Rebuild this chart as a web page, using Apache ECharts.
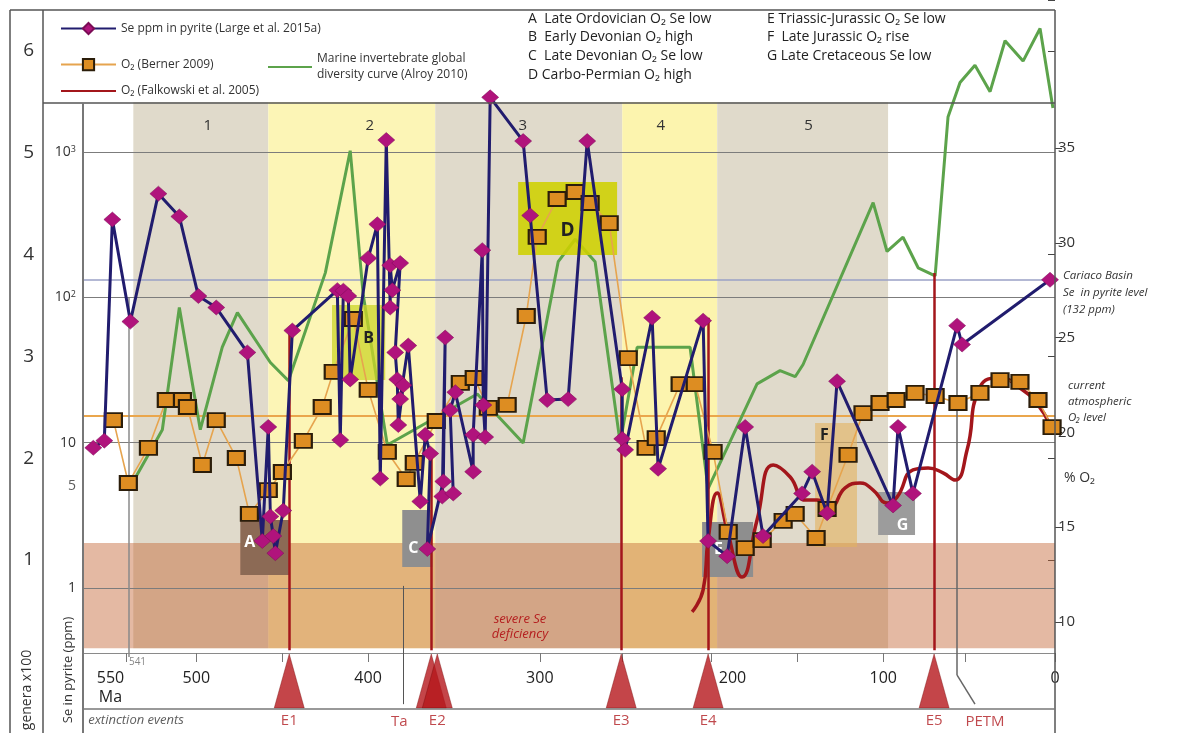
<!DOCTYPE html>
<html><head><meta charset="utf-8">
<script src="https://cdn.jsdelivr.net/npm/echarts@6/dist/echarts.min.js"></script>
<style>html,body{margin:0;padding:0;background:#fff}#c{width:1181px;height:733px}</style>
</head><body><div id="c"></div>
<script>
// ---------------- data ----------------
const seAge = [560.0,553.6,548.9,538.4,522.1,509.9,498.8,488.4,470.3,461.6,458.1,456.9,455.2,454.0,449.4,444.1,417.9,416.2,414.4,411.5,410.4,399.9,394.6,392.9,389.4,387.1,387.1,385.9,381.3,384.2,383.0,382.4,379.5,381.3,376.6,369.6,366.7,363.8,365.5,356.2,355.1,356.8,350.4,352.2,349.2,338.8,338.8,333.5,332.9,331.8,328.9,309.7,305.6,295.7,283.5,272.4,252.0,252.0,250.3,234.6,231.1,204.9,202.0,190.9,180.4,170.0,147.3,141.4,132.7,126.9,94.3,91.4,82.7,57.0,54.1,2.9];
const sePpm = [9.2,10.3,343,68,517,360,102,85,41.7,2.1,12.8,3.1,2.27,1.73,3.4,59,112,10.4,111,102,27.2,186,318,5.65,1210,85,166,112,172,41.7,27.2,13.2,24.8,19.9,46.5,3.93,11.3,8.4,1.85,5.4,52.8,4.25,4.46,16.7,22.2,6.3,11.3,211,18.1,10.9,2380,1190,366,19.6,19.9,1190,23.3,10.6,8.9,72.3,6.6,69,2.1,1.65,12.8,2.27,4.46,6.3,3.26,26.4,3.69,12.8,4.46,63.8,47.3,132];

const bernerAge = [548.3,539.6,527.9,517.5,508.1,505.2,496.5,488.4,476.7,469.1,458.1,449.9,437.7,426.7,420.3,408.6,399.9,388.8,377.8,373.1,360.3,346.3,338.2,330.0,319.0,307.9,301.5,289.9,279.4,270.7,259.6,248.5,238.1,232.2,218.3,209.5,199.1,190.3,180.4,170.5,158.3,151.3,139.1,132.7,120.5,111.8,101.9,92.5,81.5,69.8,56.5,43.7,32.0,20.4,9.9,1.7];
const bernerO2 = [20.65,17.33,19.18,21.71,21.71,21.34,18.28,20.65,18.65,15.70,16.96,17.91,19.55,21.34,23.19,25.98,22.24,18.97,17.54,18.39,20.60,22.61,22.87,21.29,21.45,26.14,30.31,32.31,32.68,32.10,31.04,23.92,19.18,19.70,22.55,22.55,18.97,14.75,13.90,14.32,15.33,15.70,14.43,15.96,18.81,21.02,21.55,21.71,22.08,21.92,21.55,22.08,22.76,22.66,21.71,20.28];

const falkAge = [211.3,204.9,202.0,196.7,190.9,182.2,173.5,164.1,154.2,145.5,138.5,131.0,122.2,113.5,105.9,97.8,92.0,82.7,73.9,65.2,58.2,51.2,43.7,32.0,20.4,9.9,2.9];
const falkO2 = [10.53,11.69,14.32,16.80,14.85,12.37,15.38,18.28,17.65,16.43,16.43,16.07,17.07,17.33,16.96,16.28,16.59,18.02,18.12,17.86,17.49,19.07,22.39,22.87,22.34,21.45,20.39];

const divAge = [536.7,519.8,509.9,497.7,484.9,476.1,456.9,446.4,424.9,410.4,402.8,388.8,336.4,309.7,289.3,279.4,267.8,253.2,243.3,212.5,202.0,173.5,160.1,151.3,146.7,105.9,97.8,88.5,79.7,69.8,62.3,55.3,46.6,37.8,29.1,18.6,8.7,1.2];
const divGenera = [1.77,2.28,3.48,2.28,3.09,3.43,2.94,2.76,3.82,5.02,3.60,2.13,2.63,2.15,3.93,4.15,3.93,2.15,3.09,3.09,1.70,2.73,2.86,2.80,2.92,4.51,4.03,4.17,3.87,3.79,5.35,5.69,5.86,5.60,6.10,5.90,6.22,5.44];

const xLabelValues = [550,500,400,300,200,100,0];
const xTickValues = [541,500,450,400,300,252,200,150,100,52,0];
const seGridValues = [1,10,100,1000];
const cariacoSe = 132;
const currentO2 = 20.9;
const deficiencySe = [0.383, 2.03];
const bandTopSe = 2200, bandBottomSe = 0.383;

const bandNames = ['1','2','3','4','5'];
const bandFrom = [536.7,458.1,360.9,252.0,196.7];
const bandTo   = [458.1,360.9,252.0,196.7,97.2];

const boxNames = ['A','B','C','D','E','F','G'];
const boxAgeFrom = [474.4,421.0,380.1,312.6,205.5,139.7,103.0];
const boxAgeTo   = [445.9,390.0,362.6,255.0,175.8,115.3,81.5];
const boxO2Top   = [15.38,26.72,15.91,33.21,15.27,20.50,16.86];
const boxO2Bot   = [12.48,22.76,12.90,29.36,12.37,13.96,14.59];

const eventNames = ['E1','','E2','E3','E4','E5'];
const eventAge = [445.9,363.2,359.7,252.6,202.0,70.4];
const eventLineAge = [445.9,363.2,252.6,202.0,70.4];
const eventLineTopSe = [61.8,8.6,28.1,72.3,147];
const eventLineBottomSe = 0.371;
const taAge = 379.5, taTopSe = 1.03;
const petmAge = 57.0, petmTopSe = 48.8, petmKneeSe = 0.25, petmFootAge = 46.6;
const cambrianAge = 539.6, cambrianTopSe = 99, cambrianBottomSe = 0.333;
const stripBottomSe = 0.158;

// ---------------- styles / layout ----------------
const FONT = 'Open Sans';
const X_MAX = 566;
const L = 83, R = 126;
const zip = (a,b) => a.map((v,i) => [v, b[i]]);

const bandColors = ['#e0dacb','#fcf5b6','#e0dacb','#fcf4ae','#e0dacb'];
const bandOffsets = [[7,0],[18,0],[-6,0],[-9,0],[6,0]];
const boxStyles = {
  A:{color:'#8c6a55', label:{color:'#fff', position:'insideLeft', distance:4, offset:[0,-5]}},
  B:{color:'rgba(204,212,40,0.75)', label:{color:'#222', position:'inside', offset:[10,-4]}},
  C:{color:'#8f8f8f', label:{color:'#fff', position:'inside', offset:[-4,10]}},
  D:{color:'rgba(206,208,0,0.88)', label:{color:'#222', position:'inside', offset:[0,12], fontSize:19}},
  E:{color:'#8e8e8e', label:{color:'#fff', position:'inside', offset:[-9,0]}},
  F:{color:'rgba(226,178,95,0.6)', label:{color:'#222', position:'insideTopLeft', distance:5}},
  G:{color:'#9c9c9c', label:{color:'#fff', position:'inside', offset:[6,12]}}
};

const xAxisBase = (gi) => ({type:'value', gridIndex:gi, min:0, max:X_MAX, inverse:true, show:false});
const lineOnlyLegend = {itemStyle:{opacity:0, borderWidth:0}};

const option = {
  animation:false,
  backgroundColor:'#fff',
  textStyle:{fontFamily:FONT},
  grid:[
    {left:L, right:R, top:6.8, bottom:-5.3},   // Se log grid: 10^4 .. 0.1
    {left:L, right:R, top:-12, bottom:173},    // genera grid: 6.5 .. 1
    {left:L, right:R, top:148, bottom:111},    // O2 grid: 35 .. 10
    {left:L, right:R, top:653, bottom:24}      // time strip
  ],
  xAxis:[
    xAxisBase(0), xAxisBase(1), xAxisBase(2),
    {type:'value', gridIndex:3, min:0, max:X_MAX, inverse:true, position:'top',
     axisLine:{show:true, onZero:false, lineStyle:{color:'#8a8a8a', width:1}},
     axisTick:{show:true, inside:true, length:9, customValues:xTickValues, lineStyle:{color:'#777'}},
     axisLabel:{show:true, inside:true, margin:16, customValues:xLabelValues, fontSize:16, color:'#222', lineHeight:19,
       formatter:v => v===550 ? '550\nMa' : (v===200 ? '{r|200}' : String(v)),
       rich:{r:{fontSize:16, color:'#222', padding:[0,0,0,42]}}},
     splitLine:{show:false}}
  ],
  yAxis:[
    {type:'log', gridIndex:0, min:0.1, max:10000, logBase:10, position:'left',
     axisLine:{show:false}, axisTick:{show:false}, splitLine:{show:false},
     axisLabel:{margin:7, fontSize:14, color:'#333',
       formatter:v => { if (Math.abs(v-1)<1e-6) return '1'; if (Math.abs(v-10)<1e-6) return '10';
         if (Math.abs(v-100)<1e-4) return '10{sup|2}'; if (Math.abs(v-1000)<1e-3) return '10{sup|3}'; return ''; },
       rich:{sup:{fontSize:9, verticalAlign:'top', color:'#333', padding:[0,0,6,0]}}}},
    {type:'value', gridIndex:1, min:1, max:6.5, interval:1, position:'left', offset:40,
     axisLine:{show:false}, splitLine:{show:false},
     axisTick:{show:true, length:7, lineStyle:{color:'#444'}},
     axisLabel:{margin:9, fontSize:19, color:'#333', formatter:v => Number.isInteger(v) ? String(v) : ''}},
    {type:'value', gridIndex:2, min:10, max:35, interval:5, position:'right',
     axisLine:{show:false}, splitLine:{show:false},
     axisTick:{show:true, length:7, lineStyle:{color:'#444'}},
     axisLabel:{margin:3, fontSize:15, color:'#333'}},
    {type:'value', gridIndex:3, min:0, max:1, show:false}
  ],
  legend:[
    {left:55, top:17, itemWidth:55, itemHeight:14, itemGap:4, data:['Se ppm in pyrite (Large et al. 2015a)'], textStyle:{fontSize:12, color:'#333'}},
    {left:55, top:53, itemWidth:55, itemHeight:14, data:['O₂ (Berner 2009)'], textStyle:{fontSize:12, color:'#333'}},
    Object.assign({left:55, top:80, itemWidth:55, itemHeight:14, data:['O₂ (Falkowski et al. 2005)'], textStyle:{fontSize:12, color:'#333'}}, lineOnlyLegend),
    Object.assign({left:262, top:46, itemWidth:44, itemHeight:14, data:['Marine invertebrate global\ndiversity curve (Alroy 2010)'], textStyle:{fontSize:12, color:'#333', lineHeight:16}}, lineOnlyLegend)
  ],
  series:[
    // background period bands
    {type:'line', name:'bands', xAxisIndex:0, yAxisIndex:0, data:[], silent:true, z:1,
     markArea:{silent:true, z:1, data: bandNames.map((n,i) => [
       {name:n, xAxis:bandFrom[i], yAxis:bandTopSe, itemStyle:{color:bandColors[i], opacity:1},
        label:{show:true, position:'insideTop', distance:16, offset:bandOffsets[i], fontSize:15, color:'#333'}},
       {xAxis:bandTo[i], yAxis:bandBottomSe}])}},
    // severe Se deficiency band
    {type:'line', name:'deficiency', xAxisIndex:0, yAxisIndex:0, data:[], silent:true, z:2,
     markArea:{silent:true, z:2, data:[[
       {xAxis:X_MAX, yAxis:deficiencySe[1], itemStyle:{color:'rgba(195,100,50,0.45)', opacity:1}, label:{show:false}},
       {xAxis:0, yAxis:deficiencySe[0]}]]}},
    // Se reference grid lines
    {type:'line', name:'seRefs', xAxisIndex:0, yAxisIndex:0, data:[], silent:true, z:3,
     markLine:{silent:true, z:3, symbol:['none','none'], label:{show:false}, animation:false,
       data: seGridValues.map(v => ({yAxis:v, lineStyle:{color:'#7c7c7c', width:1, type:'solid'}}))
         .concat([{yAxis:cariacoSe, lineStyle:{color:'#9aa0c6', width:1.5, type:'solid'}}])}},
    // current atmospheric O2 level
    {type:'line', name:'o2Ref', xAxisIndex:2, yAxisIndex:2, data:[], silent:true, z:3,
     markLine:{silent:true, z:3, symbol:['none','none'], label:{show:false},
       data:[{yAxis:currentO2, lineStyle:{color:'#eaa64c', width:2, type:'solid'}}]}},
    // diversity curve
    {type:'line', name:'Marine invertebrate global\ndiversity curve (Alroy 2010)', xAxisIndex:1, yAxisIndex:1,
     data:zip(divAge, divGenera), symbol:'none', z:4, clip:false,
     lineStyle:{color:'#5ca34b', width:3}, itemStyle:{color:'#5ca34b'}},
    // highlighted boxes A-G
    {type:'line', name:'boxes', xAxisIndex:2, yAxisIndex:2, data:[], silent:true, z:5,
     markArea:{silent:true, z:5, data: boxNames.map((n,i) => [
       {name:n, xAxis:boxAgeFrom[i], yAxis:boxO2Top[i],
        itemStyle:{color:boxStyles[n].color, opacity:1},
        label:Object.assign({show:true, fontSize:16, fontWeight:'bold', fontFamily:FONT}, boxStyles[n].label)},
       {xAxis:boxAgeTo[i], yAxis:boxO2Bot[i]}])}},
    // event lines
    {type:'line', name:'events', xAxisIndex:0, yAxisIndex:0, data:[], silent:true, z:6,
     markLine:{silent:true, z:6, symbol:['none','none'], label:{show:false},
       data: eventLineAge.map((a,i) => [
         {coord:[a, eventLineTopSe[i]], lineStyle:{color:'#a3161b', width:2.5, type:'solid'}},
         {coord:[a, eventLineBottomSe]}])
       .concat([
         [{coord:[taAge, taTopSe], lineStyle:{color:'#555', width:1, type:'solid'}}, {coord:[taAge, stripBottomSe]}],
         [{coord:[petmAge, petmTopSe], lineStyle:{color:'#666', width:1.5, type:'solid'}}, {coord:[petmAge, petmKneeSe]}],
         [{coord:[petmAge, petmKneeSe], lineStyle:{color:'#666', width:1.5, type:'solid'}}, {coord:[petmFootAge, stripBottomSe]}],
         [{coord:[cambrianAge, cambrianTopSe], lineStyle:{color:'#8a8a8a', width:1.5, type:'solid'}}, {coord:[cambrianAge, cambrianBottomSe]}]
       ])}},
    // Falkowski O2
    {type:'line', name:'O₂ (Falkowski et al. 2005)', xAxisIndex:2, yAxisIndex:2, data:zip(falkAge, falkO2),
     smooth:0.5, symbol:'none', z:7, clip:false, lineStyle:{color:'#a3161b', width:3.5}, itemStyle:{color:'#a3161b'}},
    // Berner O2
    {type:'line', name:'O₂ (Berner 2009)', xAxisIndex:2, yAxisIndex:2, data:zip(bernerAge, bernerO2),
     symbol:'rect', symbolSize:[17,14], z:8, clip:false,
     lineStyle:{color:'#e6a44e', width:1.6},
     itemStyle:{color:'#dd8d22', borderColor:'#2b1d0a', borderWidth:2}},
    // Se in pyrite
    {type:'line', name:'Se ppm in pyrite (Large et al. 2015a)', xAxisIndex:0, yAxisIndex:0, data:zip(seAge, sePpm),
     symbol:'diamond', symbolSize:[17,15], z:9, clip:false,
     lineStyle:{color:'#211c6e', width:3},
     itemStyle:{color:'#b0137c', borderColor:'#7a0c55', borderWidth:0.5}},
    // extra Se axis label "5"
    {type:'scatter', name:'seFive', xAxisIndex:0, yAxisIndex:0, data:[[X_MAX,5]], symbolSize:0, silent:true, z:9,
     label:{show:true, position:'left', distance:7, formatter:'5', fontSize:14, color:'#333'}},
    // extinction triangles
    {type:'scatter', name:'extinctions', xAxisIndex:3, yAxisIndex:3, data:eventAge.map(a => [a, 0.5]),
     symbol:'triangle', symbolSize:[30,54], z:10, silent:true,
     itemStyle:{color:'#b5161c', borderColor:'#7a0c0c', borderWidth:0.5},
     label:{show:true, position:'bottom', distance:5, fontSize:15, color:'#b01c20',
       formatter:p => eventNames[p.dataIndex]}},
    // strip annotations
    {type:'scatter', name:'stripText', xAxisIndex:3, yAxisIndex:3, symbolSize:0, silent:true, z:10,
     data:[
       {value:[taAge,0], label:{formatter:'Ta', offset:[-4,0], color:'#b01c20'}},
       {value:[petmFootAge,0], label:{formatter:'PETM', offset:[10,0], color:'#b01c20'}},
       {value:[563,0], label:{formatter:'extinction events', align:'left', fontStyle:'italic', fontSize:13, color:'#333'}},
       {value:[541,0.83], label:{formatter:'541', position:'right', distance:3, fontSize:10, color:'#666'}}
     ],
     label:{show:true, position:'bottom', distance:5, fontSize:15}}
  ],
  graphic:[
    // frame
    {type:'line', shape:{x1:10,y1:10,x2:1055,y2:10}, style:{stroke:'#555', lineWidth:1.5}, z:50},
    {type:'line', shape:{x1:10,y1:10,x2:10,y2:733}, style:{stroke:'#555', lineWidth:1.5}, z:50},
    {type:'line', shape:{x1:43,y1:10,x2:43,y2:733}, style:{stroke:'#555', lineWidth:1.5}, z:50},
    {type:'line', shape:{x1:43,y1:103,x2:1055,y2:103}, style:{stroke:'#555', lineWidth:1.5}, z:50},
    {type:'line', shape:{x1:83,y1:103,x2:83,y2:733}, style:{stroke:'#777', lineWidth:2}, z:50},
    {type:'line', shape:{x1:1055,y1:10,x2:1055,y2:733}, style:{stroke:'#555', lineWidth:1.5}, z:50},
    {type:'line', shape:{x1:83,y1:709,x2:1055,y2:709}, style:{stroke:'#777', lineWidth:1.5}, z:50},
    // legend text block A-G
    {type:'text', x:528, y:19, style:{text:'A  Late Ordovician O₂ Se low', font:'14px "Open Sans"', fill:'#222', verticalAlign:'middle'}, z:50},
    {type:'text', x:528, y:37, style:{text:'B  Early Devonian O₂ high', font:'14px "Open Sans"', fill:'#222', verticalAlign:'middle'}, z:50},
    {type:'text', x:528, y:56, style:{text:'C  Late Devonian O₂ Se low', font:'14px "Open Sans"', fill:'#222', verticalAlign:'middle'}, z:50},
    {type:'text', x:528, y:75, style:{text:'D Carbo-Permian O₂ high', font:'14px "Open Sans"', fill:'#222', verticalAlign:'middle'}, z:50},
    {type:'text', x:767, y:19, style:{text:'E Triassic-Jurassic O₂ Se low', font:'14px "Open Sans"', fill:'#222', verticalAlign:'middle'}, z:50},
    {type:'text', x:767, y:37, style:{text:'F  Late Jurassic O₂ rise', font:'14px "Open Sans"', fill:'#222', verticalAlign:'middle'}, z:50},
    {type:'text', x:767, y:56, style:{text:'G Late Cretaceous Se low', font:'14px "Open Sans"', fill:'#222', verticalAlign:'middle'}, z:50},
    // right annotations
    {type:'text', x:1063, y:293, style:{text:'Cariaco Basin\nSe  in pyrite level\n(132 ppm)', font:'italic 11.5px "Open Sans"', fill:'#333', lineHeight:17, verticalAlign:'middle'}, z:50},
    {type:'text', x:1068, y:402, style:{text:'current\natmospheric\nO₂ level', font:'italic 11.5px "Open Sans"', fill:'#333', lineHeight:16, verticalAlign:'middle'}, z:50},
    {type:'text', x:1064, y:478, style:{text:'% O₂', font:'14px "Open Sans"', fill:'#333', verticalAlign:'middle'}, z:50},
    // axis titles
    {type:'text', x:27, y:690, rotation:Math.PI/2, style:{text:'genera x100', font:'14px "Open Sans"', fill:'#333', align:'center', verticalAlign:'middle'}, z:50},
    {type:'text', x:68, y:670, rotation:Math.PI/2, style:{text:'Se in pyrite (ppm)', font:'13px "Open Sans"', fill:'#333', align:'center', verticalAlign:'middle'}, z:50},
    // deficiency label
    {type:'text', x:520, y:627, style:{text:'severe Se\ndeficiency', font:'italic 13px "Open Sans"', fill:'#b52020', align:'center', verticalAlign:'middle', lineHeight:15}, z:50}
  ]
};

const chart = echarts.init(document.getElementById('c'), null, {renderer:'canvas'});
chart.setOption(option);
</script>
</body></html>
